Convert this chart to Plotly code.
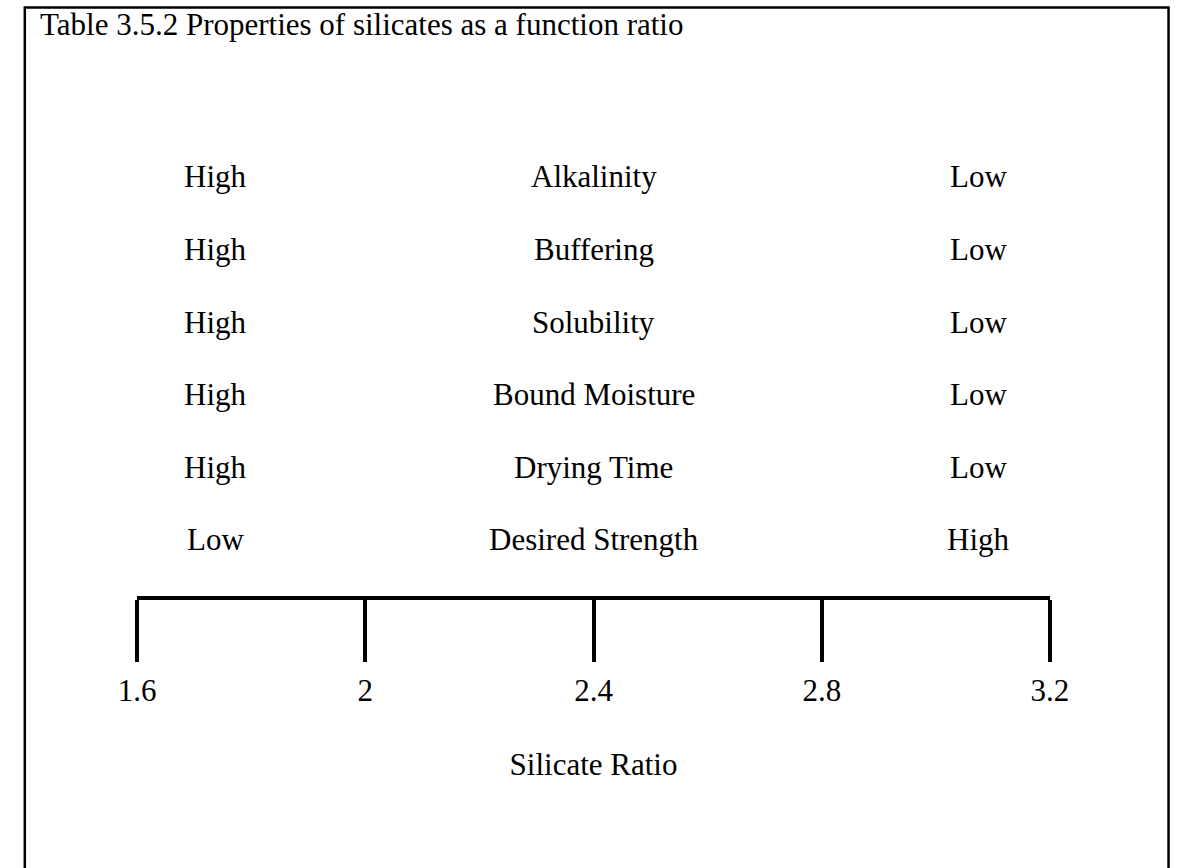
import plotly.graph_objects as go

# ---- data ----
properties = ["Alkalinity", "Buffering", "Solubility", "Bound Moisture",
              "Drying Time", "Desired Strength"]
low_ratio_level = ["High", "High", "High", "High", "High", "Low"]
high_ratio_level = ["Low", "Low", "Low", "Low", "Low", "High"]
ratio_ticks = [1.6, 2, 2.4, 2.8, 3.2]
tick_labels = ["1.6", "2", "2.4", "2.8", "3.2"]
title_text = "Table 3.5.2 Properties of silicates as a function ratio"
axis_title = "Silicate Ratio"

# ---- layout constants ----
W, H = 1189, 868
FONT = "Liberation Serif, Times New Roman, serif"
FS = 31
AXIS_Y = 596          # pixel row of the scale line
ROW0 = 177            # pixel centre of first row
ROW_STEP = 72.5
LEFT_X, RIGHT_X = 203, 991
X0_PX, X1_PX = 122, 1065


def py(p):
    return 1 - p / H


def px(p):
    return p / W


fig = go.Figure()
fig.add_trace(go.Scatter(x=ratio_ticks, y=[0] * len(ratio_ticks), mode="markers",
                         marker=dict(opacity=0), hoverinfo="skip", showlegend=False))

annotations = []
mid_ratio = (ratio_ticks[0] + ratio_ticks[-1]) / 2
for i, (lo, prop, hi) in enumerate(zip(low_ratio_level, properties, high_ratio_level)):
    yy = py(ROW0 + i * ROW_STEP)
    annotations.append(dict(x=px(LEFT_X), y=yy, xref="paper", yref="paper", text=lo,
                            showarrow=False, xanchor="center", yanchor="middle",
                            font=dict(family=FONT, size=FS, color="black")))
    annotations.append(dict(x=mid_ratio, y=yy, xref="x", yref="paper", text=prop,
                            showarrow=False, xanchor="center", yanchor="middle",
                            font=dict(family=FONT, size=FS, color="black")))
    annotations.append(dict(x=px(RIGHT_X), y=yy, xref="paper", yref="paper", text=hi,
                            showarrow=False, xanchor="center", yanchor="middle",
                            font=dict(family=FONT, size=FS, color="black")))

annotations.append(dict(x=px(20), y=py(24.5), xref="paper", yref="paper", text=title_text,
                        showarrow=False, xanchor="left", yanchor="middle",
                        font=dict(family=FONT, size=FS, color="black")))

fig.update_layout(
    width=W, height=H,
    margin=dict(l=0, r=0, t=0, b=0),
    paper_bgcolor="white", plot_bgcolor="white",
    showlegend=False,
    annotations=annotations,
    shapes=[dict(type="rect", xref="paper", yref="paper",
                 x0=px(6), x1=px(1187.5), y0=py(H + 20), y1=py(7.5),
                 line=dict(color="black", width=2.5), fillcolor="rgba(0,0,0,0)")],
    xaxis=dict(domain=[px(X0_PX), px(X1_PX)], range=[ratio_ticks[0], ratio_ticks[-1]],
               showline=True, linewidth=4, linecolor="black", mirror=False,
               ticks="outside", ticklen=62, tickwidth=4, tickcolor="black",
               tickmode="array", tickvals=ratio_ticks, ticktext=tick_labels,
               tickfont=dict(family=FONT, size=FS, color="black"),
               ticklabelstandoff=2,
               showgrid=False, zeroline=False, fixedrange=True,
               title=dict(text=axis_title, standoff=47,
                          font=dict(family=FONT, size=FS, color="black"))),
    yaxis=dict(domain=[py(AXIS_Y), 1], range=[0, 1], visible=False,
               showgrid=False, zeroline=False, fixedrange=True),
)

fig.write_html("out.html", config={"displayModeBar": False},
               post_script="document.body.style.margin='0';"
                           "document.body.style.overflow='hidden';")
